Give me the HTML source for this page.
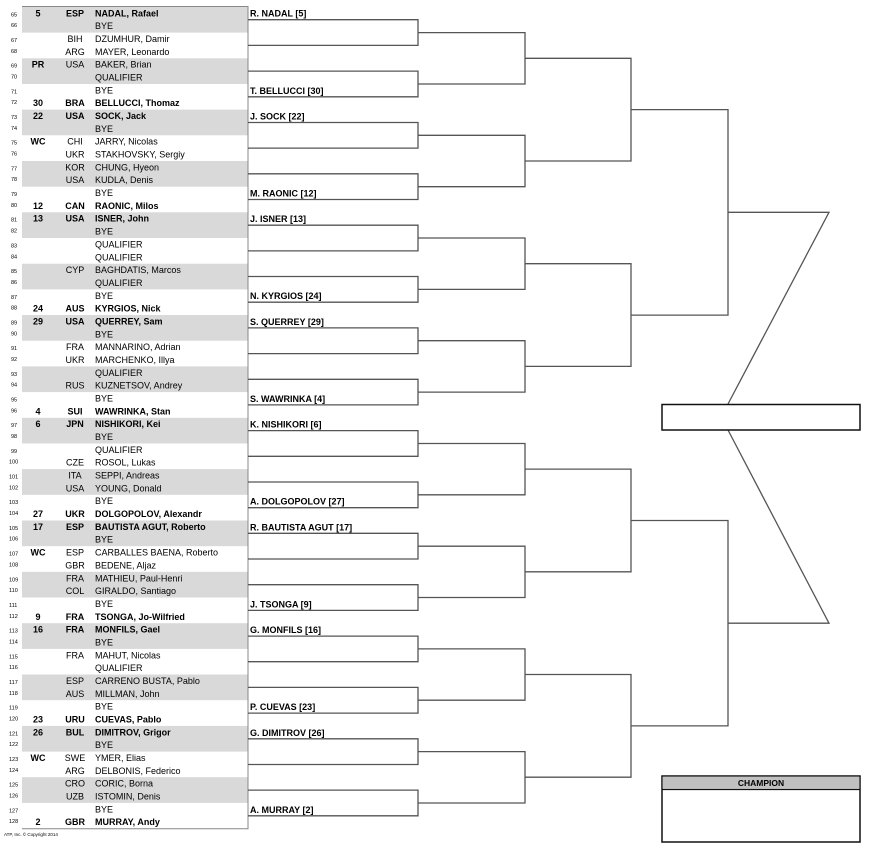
<!DOCTYPE html>
<html><head><meta charset="utf-8"><style>
html,body{margin:0;padding:0;background:#fff;}
svg{display:block;font-family:"Liberation Sans",Arial,sans-serif;}
.n{font-size:5.5px;}
.s{font-size:9px;font-weight:bold;text-anchor:middle;}
.c{font-size:9px;text-anchor:middle;}
.m{font-size:9px;}
.b{font-weight:bold;}
.l{font-size:9px;font-weight:bold;}
</style></head><body>
<svg width="871" height="848" viewBox="0 0 871 848" xmlns="http://www.w3.org/2000/svg">
<g fill="#d9d9d9">
<rect x="22" y="6.9" width="226" height="25.7"/><rect x="22" y="58.3" width="226" height="25.7"/><rect x="22" y="109.6" width="226" height="25.7"/><rect x="22" y="161.0" width="226" height="25.7"/><rect x="22" y="212.3" width="226" height="25.7"/><rect x="22" y="263.7" width="226" height="25.7"/><rect x="22" y="315.0" width="226" height="25.7"/><rect x="22" y="366.4" width="226" height="25.7"/><rect x="22" y="417.8" width="226" height="25.7"/><rect x="22" y="469.1" width="226" height="25.7"/><rect x="22" y="520.5" width="226" height="25.7"/><rect x="22" y="571.8" width="226" height="25.7"/><rect x="22" y="623.2" width="226" height="25.7"/><rect x="22" y="674.5" width="226" height="25.7"/><rect x="22" y="725.9" width="226" height="25.7"/><rect x="22" y="777.2" width="226" height="25.7"/>
</g>
<path d="M22 6.5H248V828.8H22" fill="none" stroke="#888" stroke-width="1"/>
<g fill="none" stroke="#555" stroke-width="1.3">
<path d="M248 19.7H418V45.4H248M248 71.1H418V96.8H248M248 122.5H418V148.1H248M248 173.8H418V199.5H248M248 225.2H418V250.9H248M248 276.5H418V302.2H248M248 327.9H418V353.6H248M248 379.3H418V404.9H248M248 430.6H418V456.3H248M248 482.0H418V507.7H248M248 533.3H418V559.0H248M248 584.7H418V610.4H248M248 636.1H418V661.7H248M248 687.4H418V713.1H248M248 738.8H418V764.5H248M248 790.1H418V815.8H248"/>
<path d="M418 32.6H525V84.0H418M418 135.3H525V186.7H418M418 238.0H525V289.4H418M418 340.7H525V392.1H418M418 443.5H525V494.8H418M418 546.2H525V597.5H418M418 648.9H525V700.2H418M418 751.6H525V803.0H418"/>
<path d="M525 58.3H631V161.0H525M525 263.7H631V366.4H525M525 469.1H631V571.8H525M525 674.5H631V777.2H525"/>
<path d="M631 109.6H728V315.1H631M631 520.5H728V725.9H631"/>
<path d="M728 212.3H829L728 404M728 430L829 623.2H728"/>
</g>
<rect x="662" y="404.5" width="198" height="25.5" fill="#fff" stroke="#111" stroke-width="1.5"/>
<rect x="662" y="776" width="198" height="66" fill="#fff" stroke="#111" stroke-width="1.5"/>
<rect x="662.7" y="776.7" width="196.6" height="12" fill="#c0c0c0"/>
<line x1="662" y1="789.5" x2="860" y2="789.5" stroke="#111" stroke-width="1.2"/>
<text x="761" y="786" font-size="8.5" font-weight="bold" text-anchor="middle">CHAMPION</text>
<g class="l">
<text x="250" y="16.7">R. NADAL [5]</text>
<text x="250" y="93.8">T. BELLUCCI [30]</text>
<text x="250" y="119.5">J. SOCK [22]</text>
<text x="250" y="196.5">M. RAONIC [12]</text>
<text x="250" y="222.2">J. ISNER [13]</text>
<text x="250" y="299.2">N. KYRGIOS [24]</text>
<text x="250" y="324.9">S. QUERREY [29]</text>
<text x="250" y="401.9">S. WAWRINKA [4]</text>
<text x="250" y="427.6">K. NISHIKORI [6]</text>
<text x="250" y="504.7">A. DOLGOPOLOV [27]</text>
<text x="250" y="530.3">R. BAUTISTA AGUT [17]</text>
<text x="250" y="607.4">J. TSONGA [9]</text>
<text x="250" y="633.1">G. MONFILS [16]</text>
<text x="250" y="710.1">P. CUEVAS [23]</text>
<text x="250" y="735.8">G. DIMITROV [26]</text>
<text x="250" y="812.8">A. MURRAY [2]</text>
</g>
<g transform="translate(0,16.3)"><text class="n" x="11" y="0">65</text><text class="s" x="38">5</text><text class="c b" x="75">ESP</text><text class="m b" x="95">NADAL, Rafael</text></g>
<g transform="translate(0,29.1)"><text class="n" x="11" y="-2">66</text><text class="m" x="95">BYE</text></g>
<g transform="translate(0,42.0)"><text class="n" x="11" y="0">67</text><text class="c" x="75">BIH</text><text class="m" x="95">DZUMHUR, Damir</text></g>
<g transform="translate(0,54.8)"><text class="n" x="11" y="-2">68</text><text class="c" x="75">ARG</text><text class="m" x="95">MAYER, Leonardo</text></g>
<g transform="translate(0,67.7)"><text class="n" x="11" y="0">69</text><text class="s" x="38">PR</text><text class="c" x="75">USA</text><text class="m" x="95">BAKER, Brian</text></g>
<g transform="translate(0,80.5)"><text class="n" x="11" y="-2">70</text><text class="m" x="95">QUALIFIER</text></g>
<g transform="translate(0,93.3)"><text class="n" x="11" y="0">71</text><text class="m" x="95">BYE</text></g>
<g transform="translate(0,106.2)"><text class="n" x="11" y="-2">72</text><text class="s" x="38">30</text><text class="c b" x="75">BRA</text><text class="m b" x="95">BELLUCCI, Thomaz</text></g>
<g transform="translate(0,119.0)"><text class="n" x="11" y="0">73</text><text class="s" x="38">22</text><text class="c b" x="75">USA</text><text class="m b" x="95">SOCK, Jack</text></g>
<g transform="translate(0,131.9)"><text class="n" x="11" y="-2">74</text><text class="m" x="95">BYE</text></g>
<g transform="translate(0,144.7)"><text class="n" x="11" y="0">75</text><text class="s" x="38">WC</text><text class="c" x="75">CHI</text><text class="m" x="95">JARRY, Nicolas</text></g>
<g transform="translate(0,157.5)"><text class="n" x="11" y="-2">76</text><text class="c" x="75">UKR</text><text class="m" x="95">STAKHOVSKY, Sergiy</text></g>
<g transform="translate(0,170.4)"><text class="n" x="11" y="0">77</text><text class="c" x="75">KOR</text><text class="m" x="95">CHUNG, Hyeon</text></g>
<g transform="translate(0,183.2)"><text class="n" x="11" y="-2">78</text><text class="c" x="75">USA</text><text class="m" x="95">KUDLA, Denis</text></g>
<g transform="translate(0,196.1)"><text class="n" x="11" y="0">79</text><text class="m" x="95">BYE</text></g>
<g transform="translate(0,208.9)"><text class="n" x="11" y="-2">80</text><text class="s" x="38">12</text><text class="c b" x="75">CAN</text><text class="m b" x="95">RAONIC, Milos</text></g>
<g transform="translate(0,221.7)"><text class="n" x="11" y="0">81</text><text class="s" x="38">13</text><text class="c b" x="75">USA</text><text class="m b" x="95">ISNER, John</text></g>
<g transform="translate(0,234.6)"><text class="n" x="11" y="-2">82</text><text class="m" x="95">BYE</text></g>
<g transform="translate(0,247.4)"><text class="n" x="11" y="0">83</text><text class="m" x="95">QUALIFIER</text></g>
<g transform="translate(0,260.3)"><text class="n" x="11" y="-2">84</text><text class="m" x="95">QUALIFIER</text></g>
<g transform="translate(0,273.1)"><text class="n" x="11" y="0">85</text><text class="c" x="75">CYP</text><text class="m" x="95">BAGHDATIS, Marcos</text></g>
<g transform="translate(0,285.9)"><text class="n" x="11" y="-2">86</text><text class="m" x="95">QUALIFIER</text></g>
<g transform="translate(0,298.8)"><text class="n" x="11" y="0">87</text><text class="m" x="95">BYE</text></g>
<g transform="translate(0,311.6)"><text class="n" x="11" y="-2">88</text><text class="s" x="38">24</text><text class="c b" x="75">AUS</text><text class="m b" x="95">KYRGIOS, Nick</text></g>
<g transform="translate(0,324.5)"><text class="n" x="11" y="0">89</text><text class="s" x="38">29</text><text class="c b" x="75">USA</text><text class="m b" x="95">QUERREY, Sam</text></g>
<g transform="translate(0,337.3)"><text class="n" x="11" y="-2">90</text><text class="m" x="95">BYE</text></g>
<g transform="translate(0,350.1)"><text class="n" x="11" y="0">91</text><text class="c" x="75">FRA</text><text class="m" x="95">MANNARINO, Adrian</text></g>
<g transform="translate(0,363.0)"><text class="n" x="11" y="-2">92</text><text class="c" x="75">UKR</text><text class="m" x="95">MARCHENKO, Illya</text></g>
<g transform="translate(0,375.8)"><text class="n" x="11" y="0">93</text><text class="m" x="95">QUALIFIER</text></g>
<g transform="translate(0,388.7)"><text class="n" x="11" y="-2">94</text><text class="c" x="75">RUS</text><text class="m" x="95">KUZNETSOV, Andrey</text></g>
<g transform="translate(0,401.5)"><text class="n" x="11" y="0">95</text><text class="m" x="95">BYE</text></g>
<g transform="translate(0,414.3)"><text class="n" x="11" y="-2">96</text><text class="s" x="38">4</text><text class="c b" x="75">SUI</text><text class="m b" x="95">WAWRINKA, Stan</text></g>
<g transform="translate(0,427.2)"><text class="n" x="11" y="0">97</text><text class="s" x="38">6</text><text class="c b" x="75">JPN</text><text class="m b" x="95">NISHIKORI, Kei</text></g>
<g transform="translate(0,440.0)"><text class="n" x="11" y="-2">98</text><text class="m" x="95">BYE</text></g>
<g transform="translate(0,452.9)"><text class="n" x="11" y="0">99</text><text class="m" x="95">QUALIFIER</text></g>
<g transform="translate(0,465.7)"><text class="n" x="9" y="-2">100</text><text class="c" x="75">CZE</text><text class="m" x="95">ROSOL, Lukas</text></g>
<g transform="translate(0,478.5)"><text class="n" x="9" y="0">101</text><text class="c" x="75">ITA</text><text class="m" x="95">SEPPI, Andreas</text></g>
<g transform="translate(0,491.4)"><text class="n" x="9" y="-2">102</text><text class="c" x="75">USA</text><text class="m" x="95">YOUNG, Donald</text></g>
<g transform="translate(0,504.2)"><text class="n" x="9" y="0">103</text><text class="m" x="95">BYE</text></g>
<g transform="translate(0,517.1)"><text class="n" x="9" y="-2">104</text><text class="s" x="38">27</text><text class="c b" x="75">UKR</text><text class="m b" x="95">DOLGOPOLOV, Alexandr</text></g>
<g transform="translate(0,529.9)"><text class="n" x="9" y="0">105</text><text class="s" x="38">17</text><text class="c b" x="75">ESP</text><text class="m b" x="95">BAUTISTA AGUT, Roberto</text></g>
<g transform="translate(0,542.7)"><text class="n" x="9" y="-2">106</text><text class="m" x="95">BYE</text></g>
<g transform="translate(0,555.6)"><text class="n" x="9" y="0">107</text><text class="s" x="38">WC</text><text class="c" x="75">ESP</text><text class="m" x="95">CARBALLES BAENA, Roberto</text></g>
<g transform="translate(0,568.4)"><text class="n" x="9" y="-2">108</text><text class="c" x="75">GBR</text><text class="m" x="95">BEDENE, Aljaz</text></g>
<g transform="translate(0,581.3)"><text class="n" x="9" y="0">109</text><text class="c" x="75">FRA</text><text class="m" x="95">MATHIEU, Paul-Henri</text></g>
<g transform="translate(0,594.1)"><text class="n" x="9" y="-2">110</text><text class="c" x="75">COL</text><text class="m" x="95">GIRALDO, Santiago</text></g>
<g transform="translate(0,606.9)"><text class="n" x="9" y="0">111</text><text class="m" x="95">BYE</text></g>
<g transform="translate(0,619.8)"><text class="n" x="9" y="-2">112</text><text class="s" x="38">9</text><text class="c b" x="75">FRA</text><text class="m b" x="95">TSONGA, Jo-Wilfried</text></g>
<g transform="translate(0,632.6)"><text class="n" x="9" y="0">113</text><text class="s" x="38">16</text><text class="c b" x="75">FRA</text><text class="m b" x="95">MONFILS, Gael</text></g>
<g transform="translate(0,645.5)"><text class="n" x="9" y="-2">114</text><text class="m" x="95">BYE</text></g>
<g transform="translate(0,658.3)"><text class="n" x="9" y="0">115</text><text class="c" x="75">FRA</text><text class="m" x="95">MAHUT, Nicolas</text></g>
<g transform="translate(0,671.1)"><text class="n" x="9" y="-2">116</text><text class="m" x="95">QUALIFIER</text></g>
<g transform="translate(0,684.0)"><text class="n" x="9" y="0">117</text><text class="c" x="75">ESP</text><text class="m" x="95">CARRENO BUSTA, Pablo</text></g>
<g transform="translate(0,696.8)"><text class="n" x="9" y="-2">118</text><text class="c" x="75">AUS</text><text class="m" x="95">MILLMAN, John</text></g>
<g transform="translate(0,709.7)"><text class="n" x="9" y="0">119</text><text class="m" x="95">BYE</text></g>
<g transform="translate(0,722.5)"><text class="n" x="9" y="-2">120</text><text class="s" x="38">23</text><text class="c b" x="75">URU</text><text class="m b" x="95">CUEVAS, Pablo</text></g>
<g transform="translate(0,735.3)"><text class="n" x="9" y="0">121</text><text class="s" x="38">26</text><text class="c b" x="75">BUL</text><text class="m b" x="95">DIMITROV, Grigor</text></g>
<g transform="translate(0,748.2)"><text class="n" x="9" y="-2">122</text><text class="m" x="95">BYE</text></g>
<g transform="translate(0,761.0)"><text class="n" x="9" y="0">123</text><text class="s" x="38">WC</text><text class="c" x="75">SWE</text><text class="m" x="95">YMER, Elias</text></g>
<g transform="translate(0,773.9)"><text class="n" x="9" y="-2">124</text><text class="c" x="75">ARG</text><text class="m" x="95">DELBONIS, Federico</text></g>
<g transform="translate(0,786.7)"><text class="n" x="9" y="0">125</text><text class="c" x="75">CRO</text><text class="m" x="95">CORIC, Borna</text></g>
<g transform="translate(0,799.5)"><text class="n" x="9" y="-2">126</text><text class="c" x="75">UZB</text><text class="m" x="95">ISTOMIN, Denis</text></g>
<g transform="translate(0,812.4)"><text class="n" x="9" y="0">127</text><text class="m" x="95">BYE</text></g>
<g transform="translate(0,825.2)"><text class="n" x="9" y="-2">128</text><text class="s" x="38">2</text><text class="c b" x="75">GBR</text><text class="m b" x="95">MURRAY, Andy</text></g>
<text x="4" y="836" font-size="4.5">ATP, Inc. © Copyright 2014</text>
</svg>
</body></html>
